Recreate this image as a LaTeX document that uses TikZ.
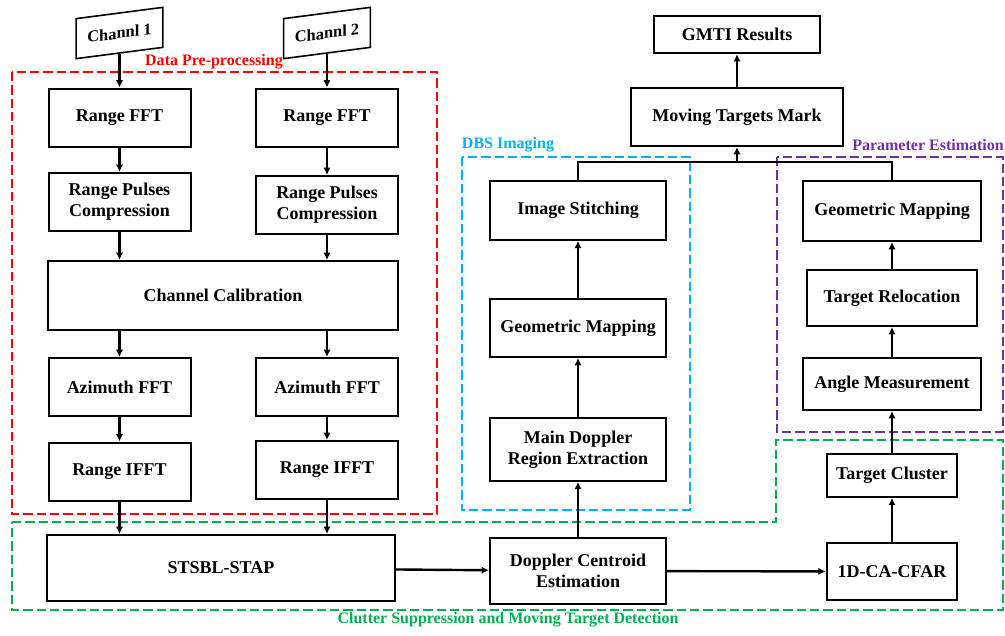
\documentclass[tikz,border=0pt]{standalone}
\usepackage{fontspec}
\setmainfont{Liberation Serif}
\usepackage{xcolor}
\usetikzlibrary{arrows.meta}
\definecolor{prered}{RGB}{255,0,0}
\definecolor{dbsblue}{RGB}{0,176,240}
\definecolor{estpurple}{RGB}{112,48,160}
\definecolor{cluttergreen}{RGB}{0,176,80}
\tikzset{
  blk/.style={draw, line width=1.5pt, align=center, inner sep=0pt, font=\bfseries\fontsize{13.5}{16}\selectfont},
  smallblk/.style={blk, minimum width=106.5pt, minimum height=43.5pt},
  chan/.style={draw, line width=1.2pt, minimum width=65pt, minimum height=30pt, font=\bfseries\fontsize{12.3}{14}\selectfont, transform shape, yslant=0.13},
  region/.style={dash pattern=on 7pt off 3pt, line width=1.7pt},
  lbl/.style={font=\bfseries\fontsize{12}{14}\selectfont},
  flow/.style={->, line width=1.8pt},
}

\begin{document}
\begin{tikzpicture}[x=0.75pt, y=-0.75pt, >={Latex[length=5.5pt,width=5.5pt]}]
\useasboundingbox (0,0) rectangle (1005,635);

\draw[region, prered] (12,72) rectangle (437,514);
\draw[region, dbsblue] (462,157) rectangle (690,510);
\draw[region, estpurple] (777,157) rectangle (1003,432);
\draw[region, cluttergreen] (12,522) -- (776,522) -- (776,440) -- (1003,440) -- (1003,610) -- (12,610) -- cycle;

\node[lbl, text=prered] (lblpre) at (214,62) {Data Pre-processing};
\node[lbl, text=dbsblue] (lbldbs) at (508,145) {DBS Imaging};
\node[lbl, text=estpurple] (lblest) at (928,145) {Parameter Estimation};
\node[lbl, text=cluttergreen] (lblclt) at (508,620) {Clutter Suppression and Moving Target Detection};

\node[chan] (ch1) at (119.5,33) {Channl 1};
\node[chan] (ch2) at (327,33) {Channl 2};

\node[smallblk] (rfft1) at (119.5,117.5) {Range FFT};
\node[smallblk] (rfft2) at (327,117.5) {Range FFT};
\node[smallblk] (rpc1) at (119.5,202) {Range Pulses\\Compression};
\node[smallblk] (rpc2) at (327,205) {Range Pulses\\Compression};
\node[blk, minimum width=262.5pt, minimum height=51.75pt] (cal) at (223,295.5) {Channel Calibration};
\node[smallblk] (afft1) at (119.5,387) {Azimuth FFT};
\node[smallblk] (afft2) at (327,387) {Azimuth FFT};
\node[smallblk] (rifft1) at (119.5,471.5) {Range IFFT};
\node[smallblk] (rifft2) at (327,470) {Range IFFT};
\node[blk, minimum width=261pt, minimum height=49.5pt] (stap) at (221,568) {STSBL-STAP};

\node[blk, minimum width=132pt, minimum height=49.5pt] (dce) at (578,571) {Doppler Centroid\\Estimation};
\node[blk, minimum width=132pt, minimum height=47pt] (mdre) at (578,449.5) {Main Doppler\\Region Extraction};
\node[blk, minimum width=132pt, minimum height=43.5pt] (gmdbs) at (578,328) {Geometric Mapping};
\node[blk, minimum width=132pt, minimum height=44pt] (imgst) at (578,210.5) {Image Stitching};

\node[blk, minimum width=98pt, minimum height=43pt] (cfar) at (892,571.5) {1D-CA-CFAR};
\node[blk, minimum width=98pt, minimum height=32pt] (tc) at (892,475.5) {Target Cluster};
\node[blk, minimum width=134pt, minimum height=39pt] (am) at (892,384) {Angle Measurement};
\node[blk, minimum width=127.5pt, minimum height=42pt] (trel) at (892,298) {Target Relocation};
\node[blk, minimum width=134pt, minimum height=45pt] (gmpe) at (892,211) {Geometric Mapping};

\node[blk, minimum width=159pt, minimum height=43.5pt] (mtm) at (737,117) {Moving Targets Mark};
\node[blk, minimum width=125pt, minimum height=28pt] (gmti) at (737,34.5) {GMTI Results};
\coordinate (join) at (737,162);

\draw[flow] (ch1) -- (rfft1);
\draw[flow] (ch2) -- (rfft2);
\draw[flow] (rfft1) -- (rpc1);
\draw[flow] (rfft2) -- (rpc2);
\draw[flow] (rpc1) -- (rpc1 |- cal.north);
\draw[flow] (rpc2) -- (rpc2 |- cal.north);
\draw[flow] (afft1 |- cal.south) -- (afft1);
\draw[flow] (afft2 |- cal.south) -- (afft2);
\draw[flow] (afft1) -- (rifft1);
\draw[flow] (afft2) -- (rifft2);
\draw[flow] (rifft1) -- (rifft1 |- stap.north);
\draw[flow] (rifft2) -- (rifft2 |- stap.north);
\draw[flow] (stap) -- (dce);
\draw[flow] (dce) -- (cfar);
\draw[flow] (dce) -- (mdre);
\draw[flow] (mdre) -- (gmdbs);
\draw[flow] (gmdbs) -- (imgst);
\draw[flow] (cfar) -- (tc);
\draw[flow] (tc) -- (am);
\draw[flow] (am) -- (trel);
\draw[flow] (trel) -- (gmpe);
\draw[line width=1.8pt] (imgst) |- (join) -| (gmpe);
\draw[flow] (join) -- (mtm);
\draw[flow] (mtm) -- (gmti);
\end{tikzpicture}
\end{document}
